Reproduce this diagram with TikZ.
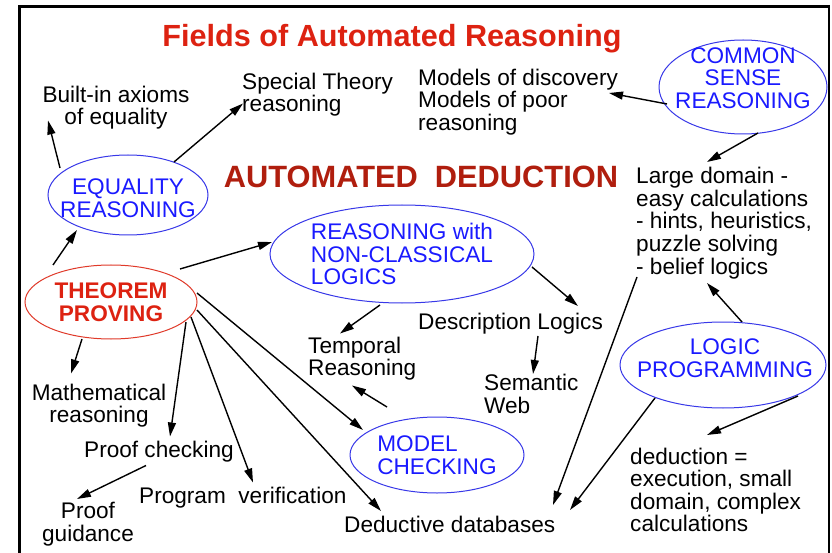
\documentclass[tikz,border=0pt]{standalone}
\usepackage{fontspec}
\setmainfont{Liberation Sans}
\usetikzlibrary{arrows.meta,calc,shapes.geometric}
\definecolor{ttlred}{HTML}{DD2211}
\definecolor{dedred}{HTML}{B01E0E}
\definecolor{bluetxt}{HTML}{1A1AFF}
\definecolor{bluelin}{HTML}{3838E8}
\definecolor{redlin}{HTML}{E03A2A}
\begin{document}
\begin{tikzpicture}[x=1pt,y=-1pt,
  txt/.style={inner sep=0pt, font=\fontsize{22.6}{22.6}\selectfont, text=black},
  field/.style={ellipse, draw=bluelin, line width=1pt, inner xsep=-20pt, inner ysep=-8pt,
    text=bluetxt, font=\fontsize{22.6}{22.6}\selectfont},
  fieldtext/.style={inner sep=0pt, text=bluetxt, font=\fontsize{22.6}{22.6}\selectfont, align=center},
  arr/.style={-{Triangle[length=14pt,width=8pt]}, line width=1.4pt, black}]
\useasboundingbox (0,0) rectangle (832,553);
\fill[white] (0,0) rectangle (832,553);
% frame
\draw[line width=3pt] (19.5,560) -- (19.5,6.5) -- (829,6.5);
\draw[line width=2.5pt] (829,5) -- (829,560);

% titles
\node[font=\bfseries\fontsize{30.6}{34}\selectfont, text=ttlred] (title) at (392,38.5) {Fields of Automated Reasoning};
\node[font=\bfseries\fontsize{30.8}{34}\selectfont, text=dedred] (ad) at (421,177) {AUTOMATED\ \ DEDUCTION};

% ellipses
\node[field, minimum width=160pt, minimum height=80pt, align=center] (eq) at (128,195) {};
\node[fieldtext] (eqt) at (128,198) {EQUALITY\\REASONING};
\node[field, draw=redlin, text=ttlred,
  font=\bfseries\fontsize{22.6}{22.6}\selectfont, minimum width=172pt, minimum height=74pt, align=center] (tp) at (111,302) {THEOREM\\PROVING};
\node[field, minimum width=264pt, minimum height=98pt, align=left] (nc) at (402,254) {REASONING with\\NON-CLASSICAL\\LOGICS};
\node[field, minimum width=168pt, minimum height=94pt] (cs) at (743,87) {};
\node[fieldtext] (cst) at (743,78) {COMMON\\SENSE\\REASONING};
\node[field, minimum width=206pt, minimum height=86pt] (lp) at (723,365) {};
\node[fieldtext] (lpt) at (725,358.5) {LOGIC\\PROGRAMMING};
\node[field, minimum width=174pt, minimum height=76pt, align=left] (mc) at (437,455) {MODEL\\CHECKING};

% text nodes
\node[txt, align=center] (axioms) at (116,107.5) {Built-in axioms\\of equality};
\node[txt, align=left, anchor=west] (special) at (242,94.5) {Special Theory\\reasoning};
\node[txt, align=left, anchor=west] (models) at (418,102) {Models of discovery\\Models of poor\\reasoning};
\node[txt, align=left, anchor=west] (large) at (636,223) {Large domain -\\easy calculations\\- hints, heuristics,\\puzzle solving\\- belief logics};
\node[txt, align=center] (math) at (99,405.5) {Mathematical\\reasoning};
\node[txt, anchor=west] (pcheck) at (84,451.5) {Proof checking};
\node[txt, align=center] (pguide) at (88,524) {Proof\\guidance};
\node[txt, anchor=west] (progver) at (139,497.5) {Program\ \ verification};
\node[txt, anchor=west] (deddb) at (344,524) {Deductive databases};
\node[txt, align=left, anchor=west] (temporal) at (308,358.5) {Temporal\\Reasoning};
\node[txt, anchor=west] (desc) at (418,324) {Description Logics};
\node[txt, align=left, anchor=west] (semweb) at (484,394) {Semantic\\Web};
\node[txt, align=left, anchor=west] (deduction) at (630,490) {deduction =\\execution, small\\domain, complex\\calculations};

% connectors
\draw[arr] ($(eq)+(-68,-27)$) -- ($(axioms)+(-68,13)$);
\draw[arr] ($(eq)+(46,-33)$) -- ($(special.west)+(1,9)$);
\draw[arr] ($(tp)+(-58,-37)$) -- ($(eq)+(-51,35)$);
\draw[arr] ($(tp)+(69,-33)$) -- ($(nc)+(-130,-12)$);
\draw[arr] ($(tp)+(-29,37)$) -- ($(math)+(-28,-32)$);
\draw[arr] ($(tp)+(75,20)$) -- ($(pcheck.west)+(86,-15)$);
\draw[arr] ($(tp)+(80,15)$) -- ($(progver.west)+(114,-15)$);
\draw[arr] ($(tp)+(86,8)$) -- ($(deddb.west)+(37,-13)$);
\draw[arr] ($(tp)+(86,-9)$) -- ($(mc)+(-74,-25)$);
\draw[arr] ($(pcheck.west)+(62,14)$) -- ($(pguide)+(-11,-25)$);
\draw[arr] ($(nc)+(-22,51)$) -- ($(temporal.west)+(32,-25)$);
\draw[arr] ($(nc)+(130,13)$) -- ($(desc.west)+(160,-18)$);
\draw[arr] ($(desc.west)+(120,12)$) -- ($(semweb.west)+(49,-20)$);
\draw[arr] ($(mc)+(-50,-48)$) -- ($(temporal.west)+(44,27)$);
\draw[arr] ($(cs)+(-76,17)$) -- ($(models.west)+(191,-9)$);
\draw[arr] ($(cs)+(15,46)$) -- ($(large.west)+(71,-61)$);
\draw[arr] ($(large.west)+(1,54)$) -- ($(deddb.west)+(209,-19)$);
\draw[arr] ($(lp)+(-68,33)$) -- ($(deddb.west)+(226,-14)$);
\draw[arr] ($(lp)+(75,31)$) -- ($(deduction.west)+(77,-55)$);
\draw[arr] ($(lp)+(19,-43)$) -- ($(large.west)+(71,60)$);
\end{tikzpicture}
\end{document}
